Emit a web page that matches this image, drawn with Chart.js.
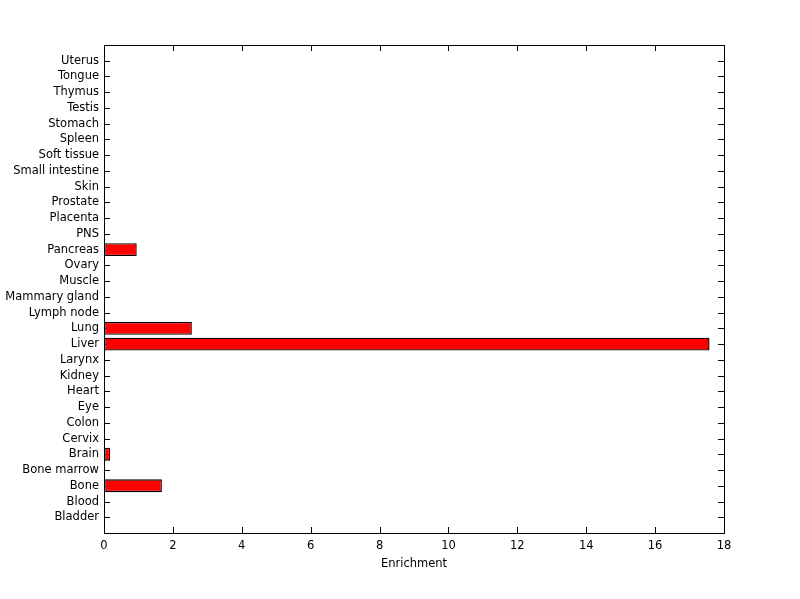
<!DOCTYPE html>
<html>
<head>
<meta charset="utf-8">
<script src="https://cdn.jsdelivr.net/npm/chart.js@4"></script>
<style>
  body { margin: 0; background: #fff; }
</style>
</head>
<body>
<canvas id="myChart" width="800" height="599"></canvas>
<script>
// tissues from bottom (Bladder) to top (Uterus)
const tissues = ['Bladder', 'Blood', 'Bone', 'Bone marrow', 'Brain', 'Cervix', 'Colon', 'Eye', 'Heart',
  'Kidney', 'Larynx', 'Liver', 'Lung', 'Lymph node', 'Mammary gland', 'Muscle', 'Ovary', 'Pancreas',
  'PNS', 'Placenta', 'Prostate', 'Skin', 'Small intestine', 'Soft tissue', 'Spleen', 'Stomach',
  'Testis', 'Thymus', 'Tongue', 'Uterus'];
const enrichment = [0, 0, 1.68, 0, 0.18, 0, 0, 0, 0,
  0, 0, 17.58, 2.55, 0, 0, 0, 0, 0.95,
  0, 0, 0, 0, 0, 0, 0, 0,
  0, 0, 0, 0];
const xTicks = [0, 2, 4, 6, 8, 10, 12, 14, 16, 18];

const fontSpec = { family: "'DejaVu Sans', sans-serif", size: 11.5 };

// MATLAB style box with inward ticks on all four sides
const boxTicks = {
  id: 'boxTicks',
  beforeDatasetsDraw(chart) {
    const { ctx, chartArea: a, scales } = chart;
    const len = 6;
    ctx.save();
    ctx.strokeStyle = '#000';
    ctx.lineWidth = 1;
    ctx.beginPath();
    scales.y.ticks.forEach(t => {
      const y = Math.round(scales.y.getPixelForValue(t.value)) + 0.5;
      ctx.moveTo(a.left, y); ctx.lineTo(a.left + len, y);
      ctx.moveTo(a.right, y); ctx.lineTo(a.right - len, y);
    });
    scales.x.ticks.forEach(t => {
      const x = Math.round(scales.x.getPixelForValue(t.value)) + 0.5;
      ctx.moveTo(x, a.bottom); ctx.lineTo(x, a.bottom - len);
      ctx.moveTo(x, a.top); ctx.lineTo(x, a.top + len);
    });
    ctx.stroke();
    ctx.restore();
  },
  afterDatasetsDraw(chart) {
    const { ctx, chartArea: a } = chart;
    ctx.save();
    ctx.strokeStyle = '#000';
    ctx.lineWidth = 1;
    ctx.strokeRect(Math.round(a.left) + 0.5, Math.round(a.top) + 0.5,
      Math.round(a.right - a.left), Math.round(a.bottom - a.top));
    ctx.restore();
  }
};

new Chart(document.getElementById('myChart'), {
  type: 'bar',
  data: {
    datasets: [{
      data: tissues.map((t, i) => ({ x: enrichment[i], y: i + 1 })),
      backgroundColor: '#ff0000',
      borderColor: '#000',
      borderWidth: 1.4,
      borderSkipped: false,
      barPercentage: 0.82,
      categoryPercentage: 1
    }]
  },
  options: {
    indexAxis: 'y',
    responsive: false,
    animation: false,
    layout: { padding: { left: 0, top: 45, right: 76, bottom: 0 } },
    plugins: { legend: { display: false }, tooltip: { enabled: false } },
    scales: {
      x: {
        type: 'linear',
        min: 0,
        max: 18,
        afterBuildTicks: s => { s.ticks = xTicks.map(v => ({ value: v })); },
        afterFit: s => { s.height = 66; },
        grid: { display: false, drawTicks: false },
        border: { display: false },
        ticks: { color: '#000', font: fontSpec, padding: 6, maxRotation: 0 },
        title: { display: true, text: 'Enrichment', color: '#000', font: fontSpec, padding: { top: 0, bottom: 28 } }
      },
      y: {
        type: 'linear',
        min: 0,
        max: 31,
        offset: false,
        afterBuildTicks: s => { s.ticks = tissues.map((t, i) => ({ value: i + 1 })); },
        afterFit: s => { s.width = 104; },
        grid: { display: false, drawTicks: false, offset: false },
        border: { display: false },
        ticks: {
          color: '#000', font: fontSpec, padding: 5, autoSkip: false,
          callback: v => tissues[v - 1] || ''
        }
      }
    }
  },
  plugins: [boxTicks]
});
</script>
</body>
</html>
